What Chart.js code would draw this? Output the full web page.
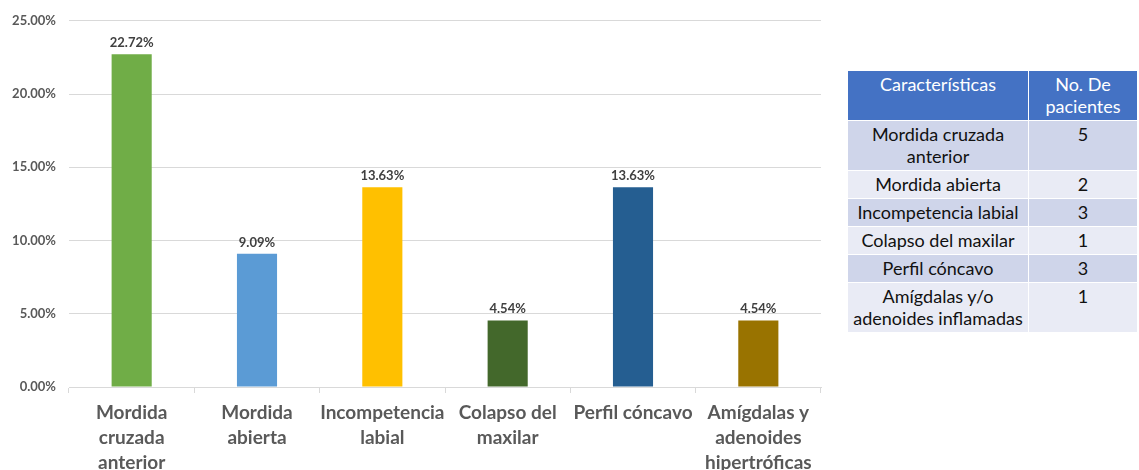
<!DOCTYPE html>
<html>
<head>
<meta charset="utf-8">
<script src="https://cdn.jsdelivr.net/npm/chart.js@4"></script>
<style>
  body { margin: 0; background: #fff; }
  #wrap { position: absolute; left: 0; top: 0; width: 840px; height: 470px; }
  table { position: absolute; left: 847px; top: 70px; width: 291px; border-collapse: collapse; table-layout: fixed;
          font-family: Lato, "Noto Sans", sans-serif; font-size: 18px; color: #111; }
  td, th { border: 1px solid #fff; text-align: center; vertical-align: top; padding: 2px 3px 3px 3px; line-height: 22px; font-weight: normal; }
  th { background: #4472C4; color: #fff; }
  tr.odd td { background: #CFD5EA; }
  tr.even td { background: #E9EBF5; }
</style>
</head>
<body>
<div id="wrap"><canvas id="myChart" width="840" height="470"></canvas></div>
<table id="tbl"></table>
<script>
// chart data
var labels = [
  ["Mordida", "cruzada", "anterior"],
  ["Mordida", "abierta"],
  ["Incompetencia", "labial"],
  ["Colapso del", "maxilar"],
  ["Perfil cóncavo"],
  ["Amígdalas y", "adenoides", "hipertróficas"]
];
var percents = [22.72, 9.09, 13.63, 4.54, 13.63, 4.54];
var colors = ["#70AD47", "#5B9BD5", "#FFC000", "#43682B", "#255E91", "#997300"];
var yTicks = [0, 5, 10, 15, 20, 25];

// table data
var tableHead = ["Características", "No. De pacientes"];
var tableNames = ["Mordida cruzada anterior", "Mordida abierta", "Incompetencia labial",
  "Colapso del maxilar", "Perfil cóncavo", "Amígdalas y/o adenoides inflamadas"];
var patients = [5, 2, 3, 1, 3, 1];

var tbl = document.getElementById("tbl");
var html = "<tr><th style='width:174px'>" + tableHead[0] + "</th><th>" + tableHead[1] + "</th></tr>";
for (var i = 0; i < tableNames.length; i++) {
  html += "<tr class='" + (i % 2 == 0 ? "odd" : "even") + "'><td>" + tableNames[i] + "</td><td>" + patients[i] + "</td></tr>";
}
tbl.innerHTML = html;

// value labels above bars
var barLabels = {
  id: "barLabels",
  afterDatasetsDraw: function (chart) {
    var ctx = chart.ctx;
    var meta = chart.getDatasetMeta(0);
    ctx.save();
    ctx.font = "bold 13px Lato, 'Noto Sans', sans-serif";
    ctx.fillStyle = "#404040";
    ctx.textAlign = "center";
    ctx.textBaseline = "bottom";
    meta.data.forEach(function (bar, i) {
      ctx.fillText(percents[i].toFixed(2) + "%", bar.x, bar.y - 5);
    });
    ctx.restore();
  }
};

var ctx = document.getElementById("myChart").getContext("2d");
new Chart(ctx, {
  type: "bar",
  data: {
    labels: labels,
    datasets: [{ data: percents, backgroundColor: colors, categoryPercentage: 1, barPercentage: 0.32 }]
  },
  options: {
    responsive: false,
    animation: false,
    layout: { padding: { top: 18, right: 19, left: 0, bottom: 0 } },
    plugins: { legend: { display: false }, tooltip: { enabled: false } },
    scales: {
      x: {
        grid: { offset: true, drawOnChartArea: false, color: "#D9D9D9", tickLength: 6 },
        border: { color: "#D9D9D9" },
        ticks: {
          maxRotation: 0, autoSkip: false, padding: 8, color: "#595959",
          font: { family: "Lato, 'Noto Sans', sans-serif", size: 19, weight: "bold", lineHeight: 1.3 }
        },
        afterFit: function (s) { s.height = 83; }
      },
      y: {
        min: 0, max: 25,
        afterBuildTicks: function (s) { s.ticks = yTicks.map(function (v) { return { value: v }; }); },
        grid: { color: "#D9D9D9", drawTicks: false },
        border: { display: false },
        ticks: {
          padding: 13, color: "#595959",
          font: { family: "Lato, 'Noto Sans', sans-serif", size: 13, weight: "bold" },
          callback: function (v) { return v.toFixed(2) + "%"; }
        },
        afterFit: function (s) { s.width = 69; }
      }
    }
  },
  plugins: [barLabels]
});
</script>
</body>
</html>
